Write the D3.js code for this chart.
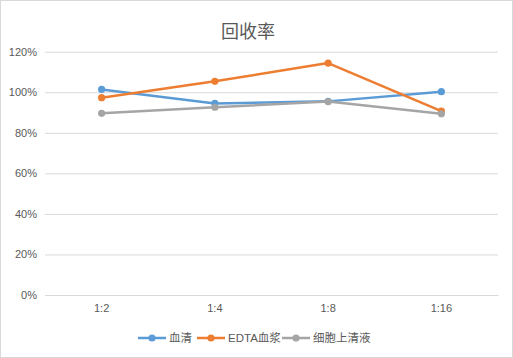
<!DOCTYPE html>
<html><head><meta charset="utf-8">
<script src="https://cdn.jsdelivr.net/npm/d3@7"></script>
<style>body{margin:0;background:#fff}svg{display:block}</style>
</head><body><svg id="c" width="513" height="358"></svg>
<script>
const categories = ["1:2", "1:4", "1:8", "1:16"];
const seriesNames = ["血清", "EDTA血浆", "细胞上清液"];
const serum = [1.014, 0.945, 0.955, 1.003];
const edta = [0.973, 1.054, 1.144, 0.907];
const supernatant = [0.896, 0.926, 0.954, 0.894];
const yTicks = [0, 0.2, 0.4, 0.6, 0.8, 1.0, 1.2];
const colors = ["#5B9BD5", "#ED7D31", "#A5A5A5"];
const title = "回收率";

const seriesData = [serum, edta, supernatant];
const font = "'Liberation Sans','Noto Sans CJK SC',sans-serif";
const svg = d3.select("#c");
svg.append("rect").attr("x",0.5).attr("y",0.5).attr("width",512).attr("height",357)
  .attr("fill","#fff").attr("stroke","#d9d9d9");

const x = d3.scaleBand().domain(categories).range([45, 498]);
const y = d3.scaleLinear().domain([0, 1.2]).range([295, 51.7]);

svg.append("text").attr("x",248).attr("y",38).attr("text-anchor","middle")
  .attr("font-family",font).attr("font-size",18).attr("fill","#595959").text(title);

const yAxis = svg.append("g").attr("transform","translate(45,0)")
  .call(d3.axisLeft(y).tickValues(yTicks).tickFormat(d3.format(".0%")).tickSize(-453).tickPadding(8));
yAxis.select(".domain").remove();
yAxis.selectAll("line").attr("stroke","#d9d9d9");
yAxis.selectAll("text").attr("font-family",font).attr("font-size",11).attr("fill","#595959");

const xAxis = svg.append("g").attr("transform","translate(0,295)")
  .call(d3.axisBottom(x).tickSize(0).tickPadding(9));
xAxis.select(".domain").attr("stroke","#d9d9d9");
xAxis.selectAll("text").attr("font-family",font).attr("font-size",11).attr("fill","#595959");

const line = d3.line().x((d,i)=>x(categories[i])+x.bandwidth()/2).y(d=>y(d));
seriesData.forEach((s,k)=>{
  svg.append("path").datum(s).attr("d",line).attr("fill","none")
    .attr("stroke",colors[k]).attr("stroke-width",2.5).attr("stroke-linejoin","round");
  svg.selectAll(null).data(s).enter().append("circle")
    .attr("cx",(d,i)=>x(categories[i])+x.bandwidth()/2).attr("cy",d=>y(d)).attr("r",3.6)
    .attr("fill",colors[k]);
});

const legendX = [138, 197, 282];
seriesNames.forEach((n,k)=>{
  const g = svg.append("g").attr("transform",`translate(${legendX[k]},338)`);
  g.append("line").attr("x1",0).attr("x2",28).attr("stroke",colors[k]).attr("stroke-width",2.5);
  g.append("circle").attr("cx",14).attr("r",3.6).attr("fill",colors[k]);
  g.append("text").attr("x",31).attr("y",4).attr("font-family",font).attr("font-size",11.5)
    .attr("fill","#595959").text(n);
});
</script></body></html>
